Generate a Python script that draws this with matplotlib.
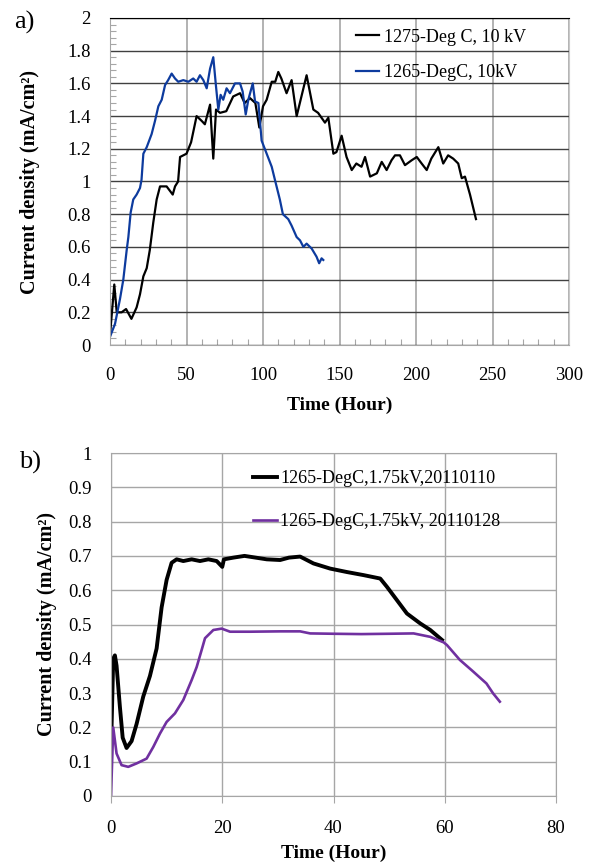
import matplotlib
matplotlib.use("Agg")
import matplotlib.pyplot as plt
from matplotlib.ticker import MultipleLocator, FuncFormatter

# ── Data: panel a) ─────────────────────────────────────────────────────────
T_1275 = [0, 2.8, 4.4, 7.6, 10.5, 14, 17.4, 19.6, 21.8, 24, 26, 28.3, 30.5, 32.7, 37,
          41, 42.5, 44.5, 45.8, 50, 53, 56.6, 60, 62, 65.4, 67.5, 69.3, 71.9, 76, 80.5,
          85, 88, 91.5, 95, 97.6, 100, 102.4, 105.7, 108, 110, 112, 115.4, 118.7, 122,
          128.5, 132.9, 136, 140.5, 142.7, 146, 148, 151.4, 154.6, 158, 161, 164.4,
          166.7, 170, 174.4, 177.6, 180.8, 184, 186.3, 189.5, 192.8, 197.2, 200.5,
          203.7, 207, 210, 214.6, 217.8, 221, 224.3, 227.6, 229.9, 232, 235.3, 239.2]
J_1275 = [0.06, 0.37, 0.20, 0.20, 0.22, 0.16, 0.23, 0.31, 0.42, 0.47, 0.58, 0.75, 0.89,
          0.97, 0.97, 0.92, 0.97, 1.00, 1.15, 1.17, 1.24, 1.40, 1.37, 1.35, 1.47, 1.14,
          1.44, 1.42, 1.43, 1.52, 1.54, 1.48, 1.51, 1.48, 1.33, 1.46, 1.50, 1.61, 1.61,
          1.67, 1.63, 1.54, 1.62, 1.40, 1.65, 1.44, 1.42, 1.36, 1.39, 1.17, 1.18, 1.28,
          1.15, 1.07, 1.11, 1.09, 1.15, 1.03, 1.05, 1.12, 1.07, 1.13, 1.16, 1.16, 1.10,
          1.13, 1.15, 1.11, 1.07, 1.14, 1.21, 1.11, 1.16, 1.14, 1.11, 1.02, 1.03, 0.92,
          0.77]

T_1265 = [0, 3.3, 6.5, 8.7, 10.9, 12, 13.5, 15.2, 17.4, 19.6, 20.6, 21.8, 24, 27.2,
          29.4, 31.6, 33.8, 36, 38, 40.3, 42.5, 44.6, 47.9, 51.2, 54.4, 56.6, 58.8, 61,
          63.2, 65.4, 67.5, 69.3, 70.8, 72.3, 74, 76.2, 78.4, 81.7, 85, 86.7, 88.7,
          90.4, 93.3, 94.8, 97, 99.1, 102.4, 105.7, 107.8, 111, 113, 116.5, 118.7, 122,
          124.2, 126.4, 128.5, 131.8, 135, 136.7, 138.3, 139.4]
J_1265 = [0.05, 0.13, 0.28, 0.40, 0.58, 0.66, 0.81, 0.89, 0.92, 0.96, 1.01, 1.17, 1.21,
          1.29, 1.37, 1.46, 1.50, 1.59, 1.62, 1.66, 1.63, 1.61, 1.62, 1.61, 1.63, 1.61,
          1.65, 1.62, 1.57, 1.69, 1.76, 1.58, 1.44, 1.53, 1.50, 1.57, 1.54, 1.60, 1.60,
          1.55, 1.41, 1.50, 1.60, 1.49, 1.48, 1.25, 1.17, 1.09, 1.01, 0.89, 0.80, 0.77,
          0.73, 0.66, 0.64, 0.60, 0.62, 0.59, 0.54, 0.50, 0.53, 0.52]

# ── Data: panel b) ─────────────────────────────────────────────────────────
T_0110 = [0, 0.1, 0.4, 0.7, 1.0, 1.6, 2.1, 2.8, 3.7, 4.6, 5.8, 7.0, 8.2, 9.1, 10.0,
          10.9, 11.8, 13, 14.5, 16, 17.5, 19, 20, 20.3, 22, 24, 26, 28, 30.4, 32, 34,
          36.4, 39.4, 42.4, 45.4, 48.4, 49.6, 51.4, 53.2, 55.6, 57.4, 59.5]
J_0110 = [0.20, 0.20, 0.40, 0.41, 0.38, 0.26, 0.17, 0.14, 0.16, 0.21, 0.29, 0.35, 0.43,
          0.55, 0.63, 0.68, 0.69, 0.685, 0.69, 0.685, 0.69, 0.685, 0.668, 0.69, 0.695,
          0.70, 0.695, 0.69, 0.688, 0.695, 0.698, 0.678, 0.663, 0.653, 0.644, 0.634,
          0.61, 0.571, 0.532, 0.503, 0.484, 0.455]

T_0128 = [0, 0.4, 1.0, 1.9, 3.1, 4.6, 6.4, 7.6, 8.8, 10, 11.5, 13, 14.5, 15.4, 16.3,
          16.9, 18.4, 19.9, 21.4, 25, 30.4, 34, 35.8, 40, 45, 50, 54.4, 57.4, 59.8,
          60.4, 62.7, 65.1, 67.5, 68.7, 69.9]
J_0128 = [0, 0.20, 0.124, 0.09, 0.085, 0.095, 0.109, 0.143, 0.182, 0.216, 0.241, 0.28,
          0.338, 0.376, 0.426, 0.46, 0.484, 0.488, 0.479, 0.479, 0.48, 0.48, 0.474,
          0.473, 0.472, 0.473, 0.474, 0.464, 0.448, 0.44, 0.397, 0.363, 0.328, 0.299,
          0.275]

LABELS_A = ["1275-Deg C, 10 kV", "1265-DegC, 10kV"]
LABELS_B = ["1265-DegC,1.75kV,20110110", "1265-DegC,1.75kV, 20110128"]

# ── Colors ─────────────────────────────────────────────────────────────────
C_BLACK  = "#000000"
C_BLUE   = "#0d3b9e"
C_PURPLE = "#7030a0"
C_GRID   = "#a6a6a6"
C_DARK   = "#404040"

plt.rcParams.update({
    "font.family": "serif",
    "font.serif": ["Liberation Serif", "DejaVu Serif"],
    "font.size": 13,
})

fmt = FuncFormatter(lambda v, _: f"{v:g}")

fig = plt.figure(figsize=(5.9, 8.66), dpi=100)

# ── Panel a) ───────────────────────────────────────────────────────────────
ax1 = fig.add_axes([110 / 590, 1 - 345 / 866, 459 / 590, 327 / 866])
ax1.plot(T_1275, J_1275, color=C_BLACK, lw=1.6, label=LABELS_A[0])
ax1.plot(T_1265, J_1265, color=C_BLUE, lw=1.6, label=LABELS_A[1])
ax1.set_xlim(0, 300)
ax1.set_ylim(0, 2)
ax1.xaxis.set_major_locator(MultipleLocator(50))
ax1.xaxis.set_minor_locator(MultipleLocator(10))
ax1.yaxis.set_major_locator(MultipleLocator(0.2))
ax1.yaxis.set_minor_locator(MultipleLocator(0.04))
ax1.yaxis.set_major_formatter(fmt)
ax1.grid(True, axis="y", color=C_DARK, lw=1.0)
ax1.grid(True, axis="x", color=C_GRID, lw=1.2)
ax1.tick_params(which="major", length=0, pad=14, labelsize=13.5)
ax1.tick_params(axis="x", which="major", pad=16)
ax1.tick_params(which="minor", direction="in", length=4, color=C_GRID, width=0.8)
for s in ("left", "bottom"):
    ax1.spines[s].set_color(C_GRID)
ax1.spines["right"].set_color("#c8c8c8")
ax1.spines["top"].set_color(C_BLACK)
ax1.set_xlabel("Time (Hour)", fontweight="bold", fontsize=14, labelpad=9)
ax1.set_ylabel("Current density (mA/cm²)", fontweight="bold", fontsize=14.5)
ax1.yaxis.set_label_coords(-0.153, 0.5)
ax1.legend(loc="upper left", bbox_to_anchor=(0.535, 0.967), frameon=False,
           handlelength=1.3, handletextpad=0.25, borderpad=0, borderaxespad=0,
           labelspacing=1.0, fontsize=13)
fig.text(14 / 590, 1 - 22 / 866, "a)", fontsize=19, va="center", ha="left")

# ── Panel b) ───────────────────────────────────────────────────────────────
ax2 = fig.add_axes([111 / 590, 1 - 796 / 866, 445 / 590, 343 / 866])
ax2.plot(T_0110, J_0110, color=C_BLACK, lw=2.8, label=LABELS_B[0])
ax2.plot(T_0128, J_0128, color=C_PURPLE, lw=1.9, label=LABELS_B[1])
ax2.set_xlim(0, 80)
ax2.set_ylim(0, 1)
ax2.xaxis.set_major_locator(MultipleLocator(20))
ax2.yaxis.set_major_locator(MultipleLocator(0.1))
ax2.yaxis.set_major_formatter(fmt)
ax2.grid(True, color=C_GRID, lw=1.0)
ax2.tick_params(axis="y", length=0, pad=14, labelsize=13.5)
ax2.tick_params(axis="x", length=5, color=C_GRID, pad=12, labelsize=13.5)
for s in ax2.spines.values():
    s.set_color(C_GRID)
ax2.set_xlabel("Time (Hour)", fontweight="bold", fontsize=14, labelpad=6)
ax2.set_ylabel("Current density (mA/cm²)", fontweight="bold", fontsize=14.5)
ax2.yaxis.set_label_coords(-0.121, 0.5)
ax2.legend(loc="upper left", bbox_to_anchor=(0.32, 0.95), frameon=False,
           handlelength=1.3, handletextpad=0.2, borderpad=0, borderaxespad=0,
           labelspacing=1.45, fontsize=13)
fig.text(19 / 590, 1 - 462 / 866, "b)", fontsize=19, va="center", ha="left")

fig.savefig("out.png", dpi=100)
